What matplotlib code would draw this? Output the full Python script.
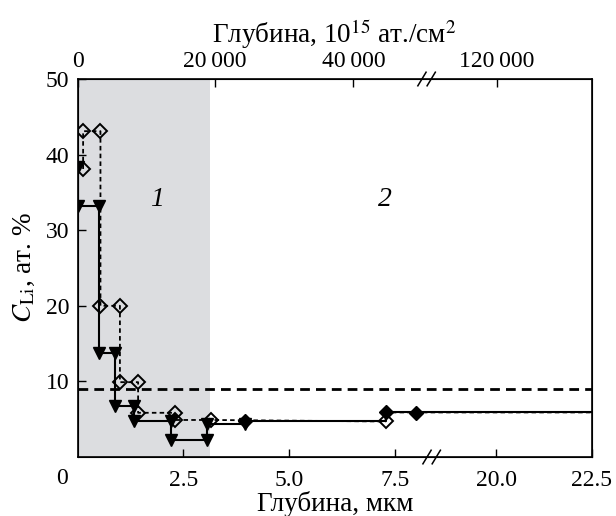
import numpy as np
import matplotlib.pyplot as plt

plt.rcParams['font.family'] = ['Liberation Serif', 'DejaVu Serif']
plt.rcParams['mathtext.fontset'] = 'stix'
plt.rcParams['font.size'] = 17

# solid step line (filled triangles), depth in um, C_Li in at.%
solid_x = [0, 0, 0.5, 0.5, 0.89, 0.89, 1.33, 1.33, 2.2, 2.2, 3.06, 3.06, 3.95, 3.95, 7.3, 7.3, 22.5]
solid_y = [38.3, 33.2, 33.2, 13.7, 13.7, 6.7, 6.7, 4.7, 4.7, 2.2, 2.2, 4.4, 4.4, 4.8, 4.8, 5.9, 5.9]
tri_idx = list(range(13))

# extra filled diamonds on the solid line
fdia_x = [3.95, 7.3, 8.0]
fdia_y = [4.7, 5.9, 5.8]

# dashed step line (open diamonds)
dash_x = [0.13, 0.13, 0.54, 0.54, 1.0, 1.0, 1.43, 1.43, 2.3, 2.3, 3.16, 7.28, 7.28, 22.5]
dash_y = [38.1, 43.1, 43.1, 20.0, 20.0, 9.9, 9.9, 5.85, 5.85, 4.9, 4.9, 4.7, 5.9, 5.9]
dia_idx = list(range(12))

level = 9.0
zone1_end = 3.14

bottom_ticks = [2.5, 5.0, 7.5, 20.0, 22.5]
bottom_labels = ['2.5', '5.0', '7.5', '20.0', '22.5']
top_ticks = [0, 3.24, 6.52, 20.02]
top_labels = ['0', '20\u2009000', '40\u2009000', '120\u2009000']

# broken x axis: piecewise linear scale
brk_x = [0, 8.4, 18.4, 22.5]
brk_u = [0, 8.4, 8.45, 12.16]


def fwd(x):
    return np.interp(x, brk_x, brk_u)


def inv(u):
    return np.interp(u, brk_u, brk_x)


fig = plt.figure(figsize=(6.16, 5.16), dpi=100)
ax = fig.add_axes([0.126, 0.1143, 0.835, 0.7326])
ax.set_xscale('function', functions=(fwd, inv))
ax.set_xlim(0, 22.5)
ax.set_ylim(0, 50)

ax.axvspan(0, zone1_end, color='#dcdde0', lw=0, zorder=0)
ax.axhline(level, color='k', lw=2, dashes=(3.5, 2.2), zorder=2)

ax.plot(solid_x, solid_y, color='k', lw=1.5, marker='v', markersize=8.5,
        markevery=tri_idx, zorder=3)
ax.plot(fdia_x, fdia_y, ls='none', marker='D', markersize=7.5, color='k', zorder=4)
ax.plot(dash_x, dash_y, color='k', lw=1.3, dashes=(2.5, 1.8), marker='D',
        markersize=7.5, markerfacecolor='none', markeredgewidth=1.4,
        markevery=dia_idx, zorder=3)

ax.text(1.88, 34, '1', fontsize=20, style='italic', ha='center', va='center')
ax.text(7.27, 34, '2', fontsize=20, style='italic', ha='center', va='center')

ax.set_xticks(bottom_ticks)
ax.set_xticklabels(bottom_labels)
ax.set_yticks([10, 20, 30, 40, 50])
ax.tick_params(direction='in', length=6, width=1, top=False, right=False)
ax.tick_params(axis='x', pad=9)
ax.tick_params(axis='y', pad=6)
ax.text(-0.03, -0.056, '0', transform=ax.transAxes, ha='center', va='center')

ax.set_xlabel('Глубина, мкм', fontsize=19.5, labelpad=0)
ax.set_ylabel(r'$C_{\mathrm{Li}}$, ат. %', fontsize=19.5, labelpad=6)

ax2 = ax.twiny()
ax2.set_xscale('function', functions=(fwd, inv))
ax2.set_xlim(0, 22.5)
ax2.set_xticks(top_ticks)
ax2.set_xticklabels(top_labels)
ax2.tick_params(direction='in', length=6, width=1, pad=5)
ax2.set_xlabel(r'Глубина, 10$^{15}$ ат./см$^2$', fontsize=19.5, labelpad=6)

for sp in ax.spines.values():
    sp.set_linewidth(1.2)


# break marks "//" on top and bottom spines
def slashes(xb, ya):
    xa = ax.transAxes.inverted().transform(ax.transData.transform((xb, 0)))[0]
    for off in (-0.009, 0.009):
        ax.plot([xa + off - 0.008, xa + off + 0.008], [ya - 0.018, ya + 0.018],
                color='k', lw=1.1, transform=ax.transAxes, clip_on=False, zorder=5)


slashes(8.37, 0.0)
slashes(8.25, 1.0)

fig.savefig('out.png', dpi=100)
